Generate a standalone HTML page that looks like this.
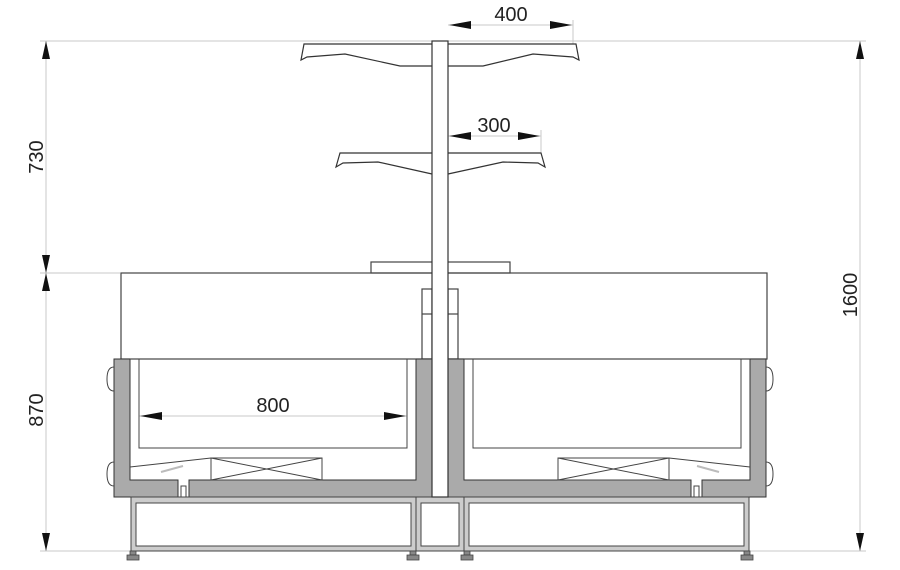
<!DOCTYPE html>
<html><head><meta charset="utf-8"><style>
html,body{margin:0;padding:0;background:#fff;}
svg{display:block;}
text{font-family:"Liberation Sans",sans-serif;fill:#222;}
</style></head><body>
<svg width="900" height="570" viewBox="0 0 900 570" xmlns="http://www.w3.org/2000/svg">
<g stroke="#c8c8c8" stroke-width="1" fill="none">
<line x1="40" y1="41" x2="866" y2="41"/>
<line x1="40" y1="551" x2="866" y2="551"/>
<line x1="40" y1="273" x2="120" y2="273"/>
<line x1="46" y1="41" x2="46" y2="551"/>
<line x1="860" y1="41" x2="860" y2="551"/>
<line x1="448" y1="25" x2="573" y2="25"/>
<line x1="573" y1="20" x2="573" y2="44"/>
<line x1="448" y1="136" x2="541" y2="136"/>
<line x1="541" y1="130" x2="541" y2="153"/>
<line x1="139" y1="416" x2="407" y2="416"/>
</g>
<g stroke="none" fill="#111">
<path d="M46,41 l-4,18 h8z"/><path d="M46,273 l-4,-18 h8z"/>
<path d="M46,273 l-4,18 h8z"/><path d="M46,551 l-4,-18 h8z"/>
<path d="M860,41 l-4,18 h8z"/><path d="M860,551 l-4,-18 h8z"/>
<path d="M449,25 l22,-4 v8z"/><path d="M572,25 l-22,-4 v8z"/>
<path d="M449,136 l22,-4 v8z"/><path d="M540,136 l-22,-4 v8z"/>
<path d="M140,416 l22,-4 v8z"/><path d="M406,416 l-22,-4 v8z"/>
</g>
<g font-size="20">
<text x="511" y="21" text-anchor="middle">400</text>
<text x="494" y="132" text-anchor="middle">300</text>
<text x="273" y="412" text-anchor="middle">800</text>
<text transform="translate(43,157) rotate(-90)" text-anchor="middle">730</text>
<text transform="translate(43,410) rotate(-90)" text-anchor="middle">870</text>
<text transform="translate(857,295) rotate(-90)" text-anchor="middle">1600</text>
</g>
<g stroke="#333" stroke-width="1.2" fill="none">
<path d="M432,44 H304 L301,60 L307,57 L345,54 L400,66 H432"/>
<path d="M448,44 H576 L579,60 L573,57 L533,54 L483,66 H448"/>
<path d="M432,153 H340 L336,167 L343,163 L378,162 L432,174"/>
<path d="M448,153 H541 L545,167 L538,163 L503,162 L448,174"/>
</g>
<g stroke="#444" stroke-width="1.2" fill="none">
<rect x="121" y="273" width="646" height="86"/>
<rect x="371" y="262" width="139" height="11"/>
<rect x="422" y="289" width="10" height="70"/>
<rect x="448" y="289" width="10" height="70"/>
<line x1="422" y1="314" x2="432" y2="314"/><line x1="448" y1="314" x2="458" y2="314"/>
</g>
<g id="tub">
<path d="M114,359 H130 V480 H178 V497 H114z" fill="#aaa" stroke="#333"/>
<path d="M189,480 H416 V359 H432 V497 H189z" fill="#aaa" stroke="#333"/>
<rect x="181" y="486" width="5" height="11" fill="#fff" stroke="#444"/>
<g stroke="#444" stroke-width="1" fill="none">
<rect x="139" y="359" width="268" height="89"/>
<line x1="130" y1="359" x2="416" y2="359"/>
<rect x="211" y="458" width="111" height="22"/>
<path d="M211,458 L322,480 M211,480 L322,458"/>
<path d="M130,467 L211,458"/>
<path d="M161,472 l22,-6" stroke="#bbb" stroke-width="2"/>
<path d="M114,367 q-7,0 -7,12 q0,12 7,12"/>
<path d="M114,462 q-7,0 -7,12 q0,12 7,12"/>
</g>
<rect x="131" y="497" width="285" height="54" fill="#ccc" stroke="#444"/>
<rect x="136" y="503" width="275" height="43" fill="#fff" stroke="#444"/>
<g fill="#888" stroke="#444" stroke-width="0.8">
<rect x="130" y="551" width="6" height="4"/><rect x="127" y="555" width="12" height="5"/>
<rect x="410" y="551" width="6" height="4"/><rect x="407" y="555" width="12" height="5"/>
</g>
</g>
<use href="#tub" transform="translate(880,0) scale(-1,1)"/>
<rect x="416" y="497" width="48" height="54" fill="#ccc" stroke="#444"/>
<rect x="421" y="503" width="38" height="43" fill="#fff" stroke="#444"/>
<rect x="432" y="41" width="16" height="456" fill="#fff" stroke="#333" stroke-width="1.2"/>
</svg>
</body></html>
